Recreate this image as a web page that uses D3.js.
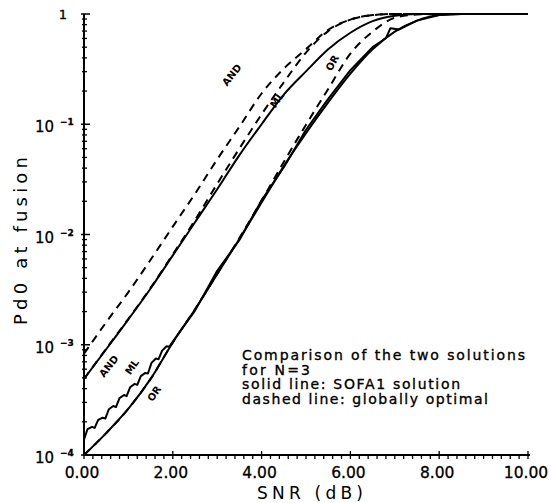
<!DOCTYPE html>
<html>
<head>
<meta charset="utf-8">
<script src="https://cdn.jsdelivr.net/npm/d3@7"></script>
<style>
  body { margin: 0; background: #fff; }
  svg { display: block; }
  text { font-family: "DejaVu Sans", sans-serif; fill: #000; }
</style>
</head>
<body>
<div id="chart"></div>
<script>
// SNR grid (dB) shared by the smooth curves
const snr = [0, 0.5, 1, 1.5, 2, 2.5, 3, 3.5, 4, 4.5, 5, 5.5, 6, 6.5, 7, 7.5, 8, 8.5, 9, 9.5, 10];

// dashed: globally optimal
const andOpt = [0.00083, 0.0016, 0.0030, 0.0059, 0.0118, 0.0234, 0.048, 0.095, 0.19, 0.32, 0.48, 0.72, 0.89, 0.977, 1, 1, 1, 1, 1, 1, 1];
const mlOpt = [0.00049, 0.00092, 0.00172, 0.00328, 0.0066, 0.0135, 0.0288, 0.0603, 0.123, 0.24, 0.447, 0.70, 0.89, 0.977, 1, 1, 1, 1, 1, 1, 1];
const orOpt = [0.0001, 0.000158, 0.000263, 0.00049, 0.00105, 0.0021, 0.0044, 0.0093, 0.0203, 0.0455, 0.099, 0.209, 0.437, 0.692, 0.923, 0.989, 1, 1, 1, 1, 1];

// solid: SOFA1 solution
const andSofa = [0.00049, 0.00091, 0.0017, 0.00324, 0.00646, 0.0129, 0.0257, 0.0525, 0.100, 0.186, 0.302, 0.479, 0.676, 0.861, 0.966, 1, 1, 1, 1, 1, 1];
const orSofa = [0.0001, 0.000158, 0.000263, 0.00049, 0.00105, 0.00209, 0.00437, 0.00912, 0.0195, 0.0417, 0.0832, 0.158, 0.288, 0.479, 0.692, 0.871, 0.977, 1, 1, 1, 1];

// ML SOFA1 curve is jagged, so it has its own SNR points
const mlSnr = [0, 0.08, 0.18, 0.24, 0.32, 0.42, 0.48, 0.56, 0.66, 0.72, 0.8, 0.9, 0.96, 1.04, 1.14, 1.2, 1.28, 1.38, 1.44, 1.52, 1.62, 1.68, 1.76, 1.86, 1.92, 2.0,
  2.5, 3.0, 3.5, 4.0, 4.5, 5.0, 5.5, 6.0, 6.5, 6.8, 6.9, 7.1, 7.5, 8.0, 8.5, 10];
const mlSofa = [0.000138, 0.000172, 0.000180, 0.000176, 0.000208, 0.000218, 0.000214, 0.000260, 0.000278, 0.000272, 0.000328, 0.000350, 0.000342,
  0.000412, 0.000442, 0.000433, 0.000520, 0.000555, 0.000548, 0.000685, 0.000750, 0.000740, 0.000885, 0.000970, 0.000960, 0.00107,
  0.00204, 0.00468, 0.00891, 0.0204, 0.0407, 0.0891, 0.170, 0.309, 0.501, 0.603, 0.741, 0.724, 0.871, 0.977, 1, 1];

// curve labels: [text, snr, pd, angle]
const curveLabels = [
  ["AND", 3.33, 0.28, -52], ["ML", 4.35, 0.166, -55], ["OR", 5.59, 0.36, -60],
  ["AND", 0.56, 0.00064, -52], ["ML", 1.08, 0.00063, -55], ["OR", 1.58, 0.00036, -55]
];

const xTicks = [0, 2, 4, 6, 8, 10];
const yTicks = [1e-4, 1e-3, 1e-2, 1e-1, 1];
const yExp = ["4", "3", "2", "1", ""];

const note = [
  ["Comparison of the two solutions", 283],
  ["for N=3", 68],
  ["solid line: SOFA1 solution", 218],
  ["dashed line: globally optimal", 246]
];

const width = 551, height = 503;
const x = d3.scaleLinear().domain([0, 10]).range([84, 528]);
const y = d3.scaleLog().domain([1e-4, 1]).range([455, 14]);

const svg = d3.select("#chart").append("svg")
  .attr("width", width).attr("height", height);

// axes
svg.append("line").attr("x1", x(0)).attr("x2", x(10) + 2).attr("y1", y(1e-4)).attr("y2", y(1e-4))
  .attr("stroke", "#000").attr("stroke-width", 2);
svg.append("line").attr("x1", x(0)).attr("x2", x(0)).attr("y1", y(1e-4)).attr("y2", y(1))
  .attr("stroke", "#000").attr("stroke-width", 2);

// x ticks, minor every 0.2
const xMinor = d3.range(0, 50.5, 1).map(i => i / 5);
svg.append("g").selectAll("line").data(xMinor).join("line")
  .attr("x1", d => x(d)).attr("x2", d => x(d))
  .attr("y1", d => Math.round(d * 5) % 10 === 0 ? y(1e-4) - 4 : y(1e-4))
  .attr("y2", y(1e-4) + 4)
  .attr("stroke", "#000").attr("stroke-width", 1.3);

svg.append("g").selectAll("text").data(xTicks).join("text")
  .attr("x", d => x(d) - 2).attr("y", 478)
  .attr("text-anchor", "middle").attr("font-size", 15.5)
  .attr("stroke", "#000").attr("stroke-width", 0.3)
  .text(d => d.toFixed(2));

// y ticks
const yMinor = [];
for (let e = -4; e < 0; e++) for (let m = 2; m <= 9; m++) yMinor.push(m * Math.pow(10, e));
svg.append("g").selectAll("line").data(yMinor).join("line")
  .attr("x1", x(0) - 2).attr("x2", x(0) + 3)
  .attr("y1", d => y(d)).attr("y2", d => y(d))
  .attr("stroke", "#000").attr("stroke-width", 1.3);
svg.append("g").selectAll("line").data(yTicks).join("line")
  .attr("x1", x(0) - 3).attr("x2", x(0) + 6)
  .attr("y1", d => y(d)).attr("y2", d => y(d))
  .attr("stroke", "#000").attr("stroke-width", 1.5);

const yLab = svg.append("g").attr("stroke", "#000").attr("stroke-width", 0.3)
  .selectAll("g").data(yTicks).join("g");
yLab.filter(d => d < 1).append("text")
  .attr("x", 54).attr("y", d => y(d) + 8)
  .attr("text-anchor", "end").attr("font-size", 15)
  .text("10");
yLab.filter(d => d < 1).append("text")
  .attr("x", 60).attr("y", d => y(d) + 1)
  .attr("font-size", 9).attr("font-weight", "bold")
  .text((d, i) => "\u2212" + yExp[i]);
yLab.filter(d => d === 1).append("text")
  .attr("x", 63).attr("y", y(1) + 5)
  .attr("text-anchor", "middle").attr("font-size", 13)
  .text("1");

// axis titles
svg.append("text")
  .attr("x", 310).attr("y", 499)
  .attr("text-anchor", "middle").attr("font-size", 17)
  .attr("textLength", 106).attr("lengthAdjust", "spacing")
  .text("SNR (dB)");
svg.append("text")
  .attr("transform", "translate(27,241) rotate(-90)")
  .attr("text-anchor", "middle").attr("font-size", 18)
  .attr("textLength", 168).attr("lengthAdjust", "spacing")
  .text("Pd0 at fusion");

// curves
const smooth = d3.line().x(d => x(d[0])).y(d => y(d[1])).curve(d3.curveMonotoneX);
const jagged = d3.line().x(d => x(d[0])).y(d => y(d[1]));
const zip = (xs, ys) => xs.map((v, i) => [v, ys[i]]);

const g = svg.append("g").attr("fill", "none").attr("stroke", "#000")
  .attr("stroke-width", 2).attr("stroke-linejoin", "round");
[andOpt, mlOpt, orOpt].forEach(s => {
  g.append("path").attr("d", smooth(zip(snr, s))).attr("stroke-dasharray", "8,6");
});
[andSofa, orSofa].forEach(s => {
  g.append("path").attr("d", smooth(zip(snr, s)));
});
g.append("path").attr("d", jagged(zip(mlSnr, mlSofa)));

// curve labels
svg.append("g").selectAll("text").data(curveLabels).join("text")
  .attr("transform", d => `translate(${x(d[1])},${y(d[2])}) rotate(${d[3]})`)
  .attr("text-anchor", "middle").attr("dy", 3.5)
  .attr("font-size", 10).attr("font-weight", "bold")
  .text(d => d[0]);

// note
svg.append("g").selectAll("text").data(note).join("text")
  .attr("x", 242).attr("y", (d, i) => 360 + i * 14.6)
  .attr("font-size", 14)
  .attr("textLength", d => d[1]).attr("lengthAdjust", "spacing")
  .attr("stroke", "#000").attr("stroke-width", 0.35)
  .text(d => d[0]);
</script>
</body>
</html>
